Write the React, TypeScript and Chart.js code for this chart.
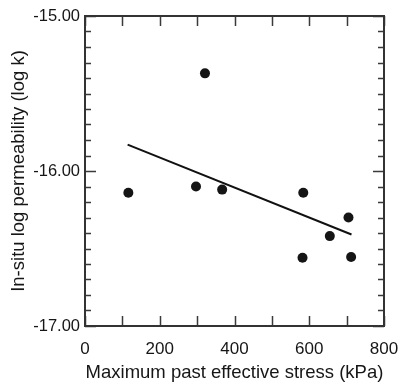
import React, { useEffect, useRef } from "react";
import { Chart, registerables } from "chart.js";

Chart.register(...registerables);

const stressKPa = [116, 297, 321, 367, 584, 582, 655, 705, 712];
const logK = [-16.14, -16.1, -15.37, -16.12, -16.14, -16.56, -16.42, -16.3, -16.555];
const fitX = [114, 713];
const fitY = [-15.83, -16.41];

const xTitle = "Maximum past effective stress (kPa)";
const yTitle = "In-situ log permeability (log k)";

const FONT = "'Liberation Sans', Arial, Helvetica, sans-serif";
const INK = "#161616";

const frameTicks = {
  id: "frameTicks",
  afterDatasetsDraw(chart: any) {
    const { ctx, chartArea: a, scales } = chart;
    const xs = scales.x;
    const ys = scales.y;
    ctx.save();
    ctx.strokeStyle = "#3a3a3a";
    ctx.lineWidth = 1.5;
    ctx.beginPath();
    for (let v = xs.min; v <= xs.max + 1e-9; v += 100) {
      const px = Math.round(xs.getPixelForValue(v)) + 0.5;
      ctx.moveTo(px, a.bottom);
      ctx.lineTo(px, a.bottom - 10);
      ctx.moveTo(px, a.top);
      ctx.lineTo(px, a.top + 10);
    }
    for (let i = 0; i <= 20; i++) {
      const v = ys.min + i * 0.1;
      const major = i % 10 === 0;
      const len = major ? 11 : 6;
      const py = Math.round(ys.getPixelForValue(v)) + 0.5;
      ctx.moveTo(a.left, py);
      ctx.lineTo(a.left + len, py);
      ctx.moveTo(a.right, py);
      ctx.lineTo(a.right - len, py);
    }
    ctx.stroke();
    ctx.lineWidth = 2;
    ctx.strokeStyle = "#333";
    ctx.strokeRect(a.left, a.top, a.right - a.left, a.bottom - a.top);
    ctx.restore();
  },
};

export default function App() {
  const ref = useRef<HTMLCanvasElement | null>(null);
  useEffect(() => {
    if (!ref.current) return;
    const chart = new Chart(ref.current, {
      type: "scatter",
      data: {
        datasets: [
          {
            type: "line",
            data: fitX.map((x, i) => ({ x, y: fitY[i] })),
            borderColor: "#111",
            borderWidth: 2,
            pointRadius: 0,
            showLine: true,
            fill: false,
          } as any,
          {
            data: stressKPa.map((x, i) => ({ x, y: logK[i] })),
            backgroundColor: "#151515",
            borderColor: "#151515",
            pointRadius: 5,
            borderWidth: 0,
          },
        ],
      },
      options: {
        responsive: false,
        animation: false,
        layout: { padding: { top: 16, right: 14, left: 0, bottom: 0 } },
        plugins: { legend: { display: false }, tooltip: { enabled: false } },
        scales: {
          x: {
            type: "linear",
            min: 0,
            max: 800,
            grid: { display: false, drawTicks: false },
            border: { display: false },
            ticks: {
              stepSize: 200,
              padding: 13,
              color: INK,
              font: { family: FONT, size: 17 },
              callback: (v: any) => String(v),
            },
            title: {
              display: true,
              text: xTitle,
              color: INK,
              font: { family: FONT, size: 18.5 },
              padding: { top: 0, bottom: 2 },
            },
            afterFit: (s: any) => {
              s.height = 60;
              s.paddingLeft = 0;
              s.paddingRight = 0;
            },
          },
          y: {
            type: "linear",
            min: -17,
            max: -15,
            grid: { display: false, drawTicks: false },
            border: { display: false },
            ticks: {
              stepSize: 1,
              padding: 5,
              color: INK,
              font: { family: FONT, size: 16.5 },
              callback: (v: any) => Number(v).toFixed(2),
            },
            title: {
              display: true,
              text: yTitle,
              color: INK,
              font: { family: FONT, size: 18.5 },
              padding: { top: 8, bottom: 0 },
            },
            afterFit: (s: any) => {
              s.width = 85;
              s.paddingTop = 0;
              s.paddingBottom = 0;
            },
          },
        },
      },
      plugins: [frameTicks],
    });
    return () => chart.destroy();
  }, []);
  return (
    <div style={{ position: "absolute", left: 0, top: 0, width: 398, height: 386, background: "#fff" }}>
      <canvas ref={ref} width={398} height={386} style={{ display: "block" }} />
    </div>
  );
}
